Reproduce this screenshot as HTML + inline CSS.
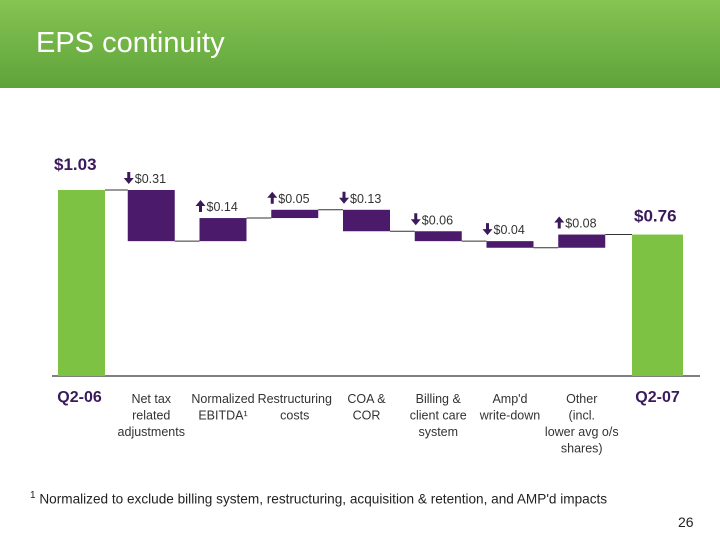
<!DOCTYPE html>
<html><head><meta charset="utf-8"><style>
body{margin:0;width:720px;height:540px;background:#fff;font-family:"Liberation Sans",sans-serif;position:relative;overflow:hidden}
#hdr{position:absolute;left:0;top:0;width:720px;height:88px;background:linear-gradient(#86c453,#5ea33a)}
#title{position:absolute;left:36px;top:27px;color:#fff;font-size:29px}
svg{position:absolute;left:0;top:0}
.fn{position:absolute;left:30px;top:490px;font-size:13.6px;color:#222}
.pg{position:absolute;left:678px;top:514px;font-size:14px;color:#222}
</style></head><body>
<div id="hdr"></div>
<div id="title">EPS continuity</div>
<svg id="chart" width="720" height="540"></svg>
<div class="fn"><sup style="font-size:10px">1</sup>&nbsp;Normalized to exclude billing system, restructuring, acquisition &amp; retention, and AMP'd impacts</div>
<div class="pg">26</div>
<script>
const categories=[["Q2-06"],["Net tax","related","adjustments"],["Normalized","EBITDA¹"],["Restructuring","costs"],["COA &","COR"],["Billing &","client care","system"],["Amp'd","write-down"],["Other","(incl.","lower avg o/s","shares)"],["Q2-07"]];
const startValue=1.03;
const deltas=[-0.31,0.14,0.05,-0.13,-0.06,-0.04,0.08];
const endValue=0.76;
const ns="http://www.w3.org/2000/svg",svg=document.getElementById('chart');
const x0=58,step=71.75,bw=47,base=376;
function y(v){return 190+(1.03-v)*165;}
function xi(i){return x0+i*step-((i>0&&i<8)?2:0);}
function el(t,a,txt){const e=document.createElementNS(ns,t);for(const k in a)e.setAttribute(k,a[k]);if(txt!=null)e.textContent=txt;svg.appendChild(e);return e;}
const purple="#4b1a6b",green="#7dc242";
let e=el('line',{x1:52,x2:700,y1:base,y2:base,stroke:'#555','stroke-width':1.5});

e=el('rect',{x:xi(0),y:y(startValue),width:bw,height:base-y(startValue),fill:green});

e=el('text',{x:xi(0)-4,y:y(startValue)-20,'font-size':17,'font-weight':'bold',fill:'#3a1a5a'},'$'+startValue.toFixed(2));

let cur=startValue;
deltas.forEach((d,i)=>{
  const nxt=cur+d,x=xi(i+1);
  const l=el('line',{x1:xi(i)+bw,x2:x,y1:y(cur),y2:y(cur),stroke:'#333','stroke-width':1});
  
  const top=y(Math.max(cur,nxt)),bot=y(Math.min(cur,nxt));
  const r=el('rect',{x:x,y:top,width:bw,height:bot-top,fill:purple});
  
  const ax=x+1,ay=top-12;
  const p=d<0?`M${ax-1.5} ${ay-6}h3v6h3.5l-5 6l-5-6h3.5z`:`M${ax} ${ay-6}l5 6h-3.5v6h-3v-6h-3.5z`;
  const a=el('path',{d:p,fill:'#3a1a5a'});
  
  const t=el('text',{x:x+7,y:top-7,'font-size':12.5,fill:'#333'},'$'+Math.abs(d).toFixed(2));
  
  cur=nxt;
});
const xe=xi(8);
e=el('line',{x1:xi(7)+bw,x2:xe,y1:y(cur),y2:y(cur),stroke:'#333','stroke-width':1});

e=el('rect',{x:xe,y:y(endValue),width:bw+4,height:base-y(endValue),fill:green});

e=el('text',{x:xe+2,y:y(endValue)-13,'font-size':17,'font-weight':'bold',fill:'#3a1a5a'},'$'+endValue.toFixed(2));

categories.forEach((c,i)=>{
  const big=(i==0||i==8);
  c.forEach((s,j)=>{
    const t=el('text',{x:xi(i)+bw/2+(i==0?-2:0)+(i==8?2:0),y:big?402:403+j*16.5,'text-anchor':'middle','font-size':big?16:12.5,'font-weight':big?'bold':'normal',fill:big?'#3a1a5a':'#333'},s);
    
  });
});
</script>
</body></html>
